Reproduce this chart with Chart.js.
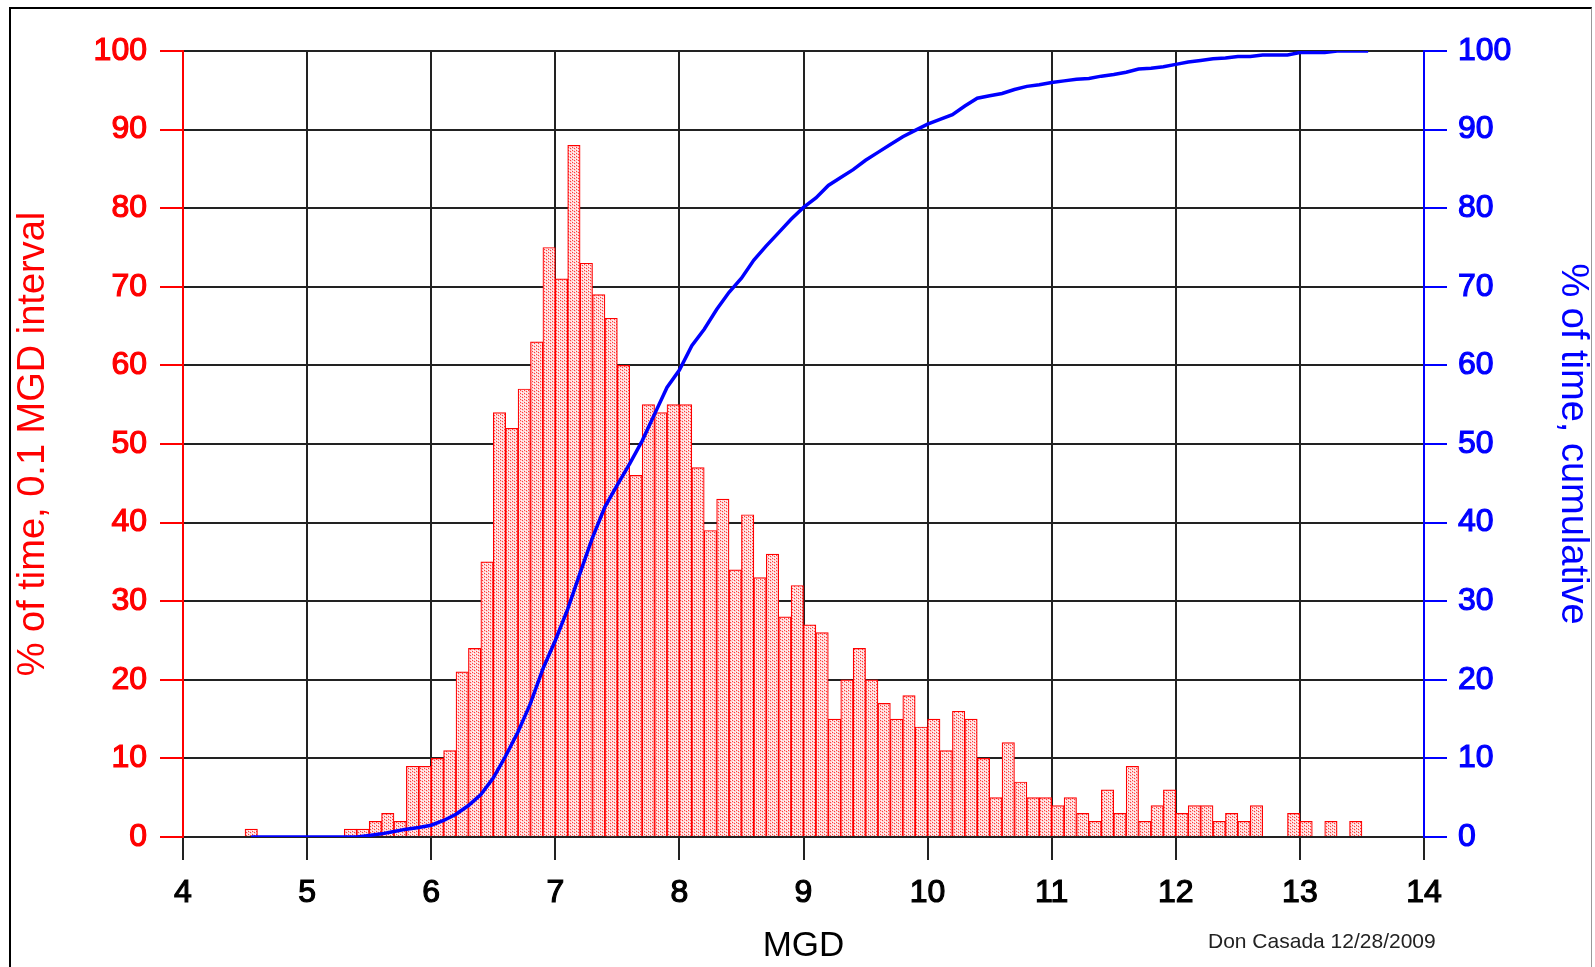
<!DOCTYPE html>
<html>
<head>
<meta charset="utf-8">
<script src="https://cdn.jsdelivr.net/npm/chart.js@4/dist/chart.umd.min.js"></script>
<style>
  html, body { margin: 0; padding: 0; background: #fff; }
  #wrap { position: relative; width: 1595px; height: 967px; overflow: hidden; }
  #frame { position: absolute; left: 9px; top: 7px; width: 1580px; height: 980px;
           border-left: 2px solid #000; border-top: 2px solid #000; border-right: 1px solid #999;
           pointer-events: none; }
  #credit { position: absolute; left: 1208px; top: 929px; font: 21px "Liberation Sans", Arial, sans-serif;
            color: #222; white-space: nowrap; }
</style>
</head>
<body>
<div id="wrap">
  <canvas id="flowChart" width="1595" height="967"></canvas>
  <div id="frame"></div>
  <div id="credit">Don Casada 12/28/2009</div>
</div>
<script>
// Histogram bins (MGD, start of each 0.1 MGD interval)
const binStart = [
  4.5, 4.6, 4.7, 4.8, 4.9, 5.0, 5.1, 5.2, 5.3, 5.4, 5.5, 5.6, 5.7, 5.8, 5.9,
  6.0, 6.1, 6.2, 6.3, 6.4, 6.5, 6.6, 6.7, 6.8, 6.9, 7.0, 7.1, 7.2, 7.3, 7.4,
  7.5, 7.6, 7.7, 7.8, 7.9, 8.0, 8.1, 8.2, 8.3, 8.4, 8.5, 8.6, 8.7, 8.8, 8.9,
  9.0, 9.1, 9.2, 9.3, 9.4, 9.5, 9.6, 9.7, 9.8, 9.9, 10.0, 10.1, 10.2, 10.3, 10.4,
  10.5, 10.6, 10.7, 10.8, 10.9, 11.0, 11.1, 11.2, 11.3, 11.4, 11.5, 11.6, 11.7, 11.8, 11.9,
  12.0, 12.1, 12.2, 12.3, 12.4, 12.5, 12.6, 12.7, 12.8, 12.9, 13.0, 13.1, 13.2, 13.3, 13.4, 13.5
];
// % of time in each interval (left axis)
const intervalPct = [
  1, 0, 0, 0, 0, 0, 0, 0, 1, 1, 2, 3, 2, 9, 9,
  10, 11, 21, 24, 35, 54, 52, 57, 63, 75, 71, 88, 73, 69, 66,
  60, 46, 55, 54, 55, 55, 47, 39, 43, 34, 41, 33, 36, 28, 32,
  27, 26, 15, 20, 24, 20, 17, 15, 18, 14, 15, 11, 16, 15, 10,
  5, 12, 7, 5, 5, 4, 5, 3, 2, 6, 3, 9, 2, 4, 6,
  3, 4, 4, 2, 3, 2, 4, 0, 0, 3, 2, 0, 2, 0, 2, 0
];
// Cumulative curve (right axis)
const cumMgd = [
  4.55, 5.0, 5.4, 5.5, 5.6, 5.7, 5.8, 5.9, 6.0, 6.1, 6.2, 6.3, 6.4, 6.5, 6.6,
  6.7, 6.8, 6.9, 7.0, 7.1, 7.2, 7.3, 7.4, 7.5, 7.6, 7.7, 7.8, 7.9, 8.0, 8.1,
  8.2, 8.3, 8.4, 8.5, 8.6, 8.7, 8.8, 8.9, 9.0, 9.1, 9.2, 9.3, 9.4, 9.5, 9.6,
  9.7, 9.8, 9.9, 10.0, 10.1, 10.2, 10.3, 10.4, 10.5, 10.6, 10.7, 10.8, 10.9, 11.0, 11.1,
  11.2, 11.3, 11.4, 11.5, 11.6, 11.7, 11.8, 11.9, 12.0, 12.1, 12.2, 12.3, 12.4, 12.5, 12.6,
  12.7, 12.8, 12.9, 13.0, 13.1, 13.2, 13.3, 13.4, 13.55
];
const cumPct = [
  0, 0, 0, 0.2, 0.4, 0.7, 1.0, 1.2, 1.5, 2.1, 2.9, 4.0, 5.4, 7.5, 10.3,
  13.4, 17.0, 21.4, 25.0, 29.0, 33.6, 38.1, 42.0, 44.8, 47.5, 50.4, 53.8, 57.2, 59.4, 62.5,
  64.6, 67.1, 69.3, 71.1, 73.4, 75.2, 76.9, 78.6, 80.1, 81.3, 82.9, 83.9, 84.9, 86.1, 87.1,
  88.1, 89.1, 89.9, 90.7, 91.3, 91.9, 93.0, 94.0, 94.3, 94.6, 95.1, 95.5, 95.7, 96.0, 96.2,
  96.4, 96.5, 96.8, 97.0, 97.3, 97.7, 97.8, 98.0, 98.3, 98.6, 98.8, 99.0, 99.1, 99.3, 99.3,
  99.5, 99.5, 99.5, 99.8, 99.8, 99.8, 100, 100, 100
];
const yTicks = [0, 10, 20, 30, 40, 50, 60, 70, 80, 90, 100];
const xTicks = [4, 5, 6, 7, 8, 9, 10, 11, 12, 13, 14];

const FONT = '"Liberation Sans", Arial, sans-serif';

// dotted fill like the original bars
function makeDotPattern() {
  const c = document.createElement('canvas');
  c.width = 4; c.height = 3;
  const g = c.getContext('2d');
  g.fillStyle = '#ffd2d2';
  g.fillRect(0, 0, 4, 3);
  g.fillStyle = '#ff3c3c';
  g.fillRect(0, 0, 1, 1);
  g.fillRect(2, 1, 1, 1);
  g.fillStyle = '#ffffff';
  g.fillRect(1, 2, 1, 1);
  g.fillRect(3, 0, 1, 1);
  return document.getElementById('flowChart').getContext('2d').createPattern(c, 'repeat');
}

const barData = binStart.map((b, i) => ({ x: b + 0.05, y: intervalPct[i] }));
const lineData = cumMgd.map((m, i) => ({ x: m, y: cumPct[i] }));

const edgeOff = (ctx) => (ctx.tick && (ctx.tick.value === 4 || ctx.tick.value === 14)) ? 'rgba(0,0,0,0)' : '#222';

new Chart(document.getElementById('flowChart'), {
  type: 'bar',
  data: {
    datasets: [
      {
        type: 'line',
        label: 'cumulative',
        data: lineData,
        yAxisID: 'y1',
        borderColor: '#0000ff',
        borderWidth: 3.5,
        pointRadius: 0,
        tension: 0,
        order: 0
      },
      {
        type: 'bar',
        label: 'interval',
        data: barData,
        yAxisID: 'y',
        backgroundColor: makeDotPattern(),
        borderColor: '#ff0000',
        borderWidth: 1.2,
        categoryPercentage: 1.0,
        barPercentage: 1.0,
        order: 1
      }
    ]
  },
  options: {
    responsive: false,
    animation: false,
    layout: { padding: { top: 51, left: 0, right: 0, bottom: 0 } },
    plugins: { legend: { display: false }, tooltip: { enabled: false } },
    scales: {
      x: {
        type: 'linear',
        min: 4, max: 14,
        offset: false,
        afterBuildTicks: (s) => { s.ticks = xTicks.map(v => ({ value: v })); },
        afterFit: (s) => { s.height = 130; },
        ticks: { color: '#000', font: { family: FONT, size: 32 }, padding: 14, maxRotation: 0,
                 textStrokeColor: '#000', textStrokeWidth: 1.2 },
        grid: { offset: false, color: edgeOff, lineWidth: 2, tickColor: '#222', tickLength: 23 },
        border: { color: '#222', width: 2 },
        title: { display: true, text: 'MGD', color: '#000', font: { family: FONT, size: 35 }, padding: 0 }
      },
      y: {
        position: 'left',
        min: 0, max: 100,
        afterBuildTicks: (s) => { s.ticks = yTicks.map(v => ({ value: v })); },
        afterFit: (s) => { s.width = 183; },
        ticks: { color: '#ff0000', font: { family: FONT, size: 32 }, padding: 13,
                 textStrokeColor: '#ff0000', textStrokeWidth: 1.2 },
        grid: { color: '#222', lineWidth: 2, tickColor: '#ff0000', tickLength: 23 },
        border: { color: '#ff0000', width: 2 },
        title: { display: true, text: '% of time, 0.1 MGD interval', color: '#ff0000',
                 font: { family: FONT, size: 38 }, padding: { top: 11, bottom: 0 } }
      },
      y1: {
        position: 'right',
        min: 0, max: 100,
        afterBuildTicks: (s) => { s.ticks = yTicks.map(v => ({ value: v })); },
        afterFit: (s) => { s.width = 171; },
        ticks: { color: '#0000ff', font: { family: FONT, size: 32 }, padding: 11,
                 textStrokeColor: '#0000ff', textStrokeWidth: 1.2 },
        grid: { drawOnChartArea: false, color: '#0000ff', tickColor: '#0000ff', lineWidth: 2, tickLength: 23 },
        border: { color: '#0000ff', width: 2 },
        title: { display: true, text: '% of time, cumulative', color: '#0000ff',
                 font: { family: FONT, size: 38 }, padding: 0 }
      }
    }
  }
});
</script>
</body>
</html>
